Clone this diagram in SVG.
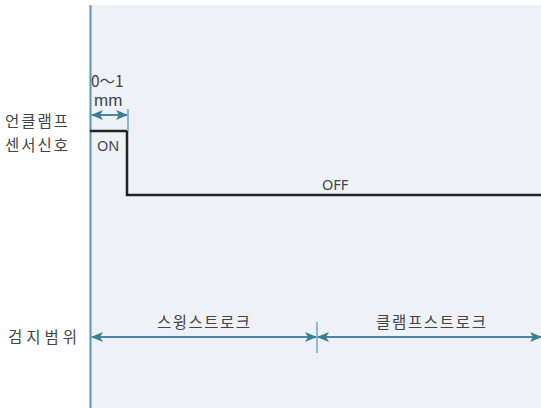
<svg xmlns="http://www.w3.org/2000/svg" width="541" height="408" viewBox="0 0 541 408">
<style>
text{font-family:"Noto Sans CJK KR","Noto Sans",sans-serif;fill:#444;font-size:15.5px}
.lat{font-family:"Noto Sans","Noto Sans CJK KR",sans-serif;font-size:14.5px}
.mm{font-family:"Liberation Sans","Noto Sans",sans-serif;font-size:17px}
.rng{font-size:15.5px}
.dim{stroke:#4a87a2;stroke-width:2;fill:none}
.tick{stroke:#8fb8cb;stroke-width:2}
</style>
<defs>
<marker id="ah" viewBox="0 0 12 10" refX="11" refY="5" markerWidth="12" markerHeight="10" markerUnits="userSpaceOnUse" orient="auto-start-reverse">
<path d="M0,0 L12,5 L0,10 L3,5 Z" fill="#3a7f99"/>
</marker>
</defs>
<rect x="90" y="5" width="451" height="403" fill="#eef2f7"/>
<g id="axis"><line x1="90.5" y1="5" x2="90.5" y2="408" stroke="#5f93ab" stroke-width="2"/></g>
<g id="labels">
<text x="5" y="127" textLength="63">언클램프</text>
<text x="5" y="151" textLength="63">센서신호</text>
<text x="8" y="343" textLength="69" lengthAdjust="spacing">검지범위</text>
</g>
<g id="signal">
<polyline points="90,131 127,131 127,195 541,195" fill="none" stroke="#222" stroke-width="2.5"/>
<text class="lat" x="97" y="151">ON</text>
<text class="lat" x="322" y="190">OFF</text>
</g>
<g id="connectors">
<line class="tick" x1="128" y1="109" x2="128" y2="131"/>
<line class="dim" x1="92" y1="115" x2="127" y2="115" marker-start="url(#ah)" marker-end="url(#ah)"/>
<line class="tick" x1="317" y1="322" x2="317" y2="353"/>
<line class="dim" x1="92" y1="337" x2="316" y2="337" marker-start="url(#ah)" marker-end="url(#ah)"/>
<line class="dim" x1="318" y1="337" x2="541" y2="337" marker-start="url(#ah)" marker-end="url(#ah)"/>
</g>
<g id="dimlabels">
<text class="rng" x="91" y="87">0〜1</text>
<text class="mm" x="94" y="106">mm</text>
<text x="157" y="328" textLength="93">스윙스트로크</text>
<text x="376" y="328" textLength="110">클램프스트로크</text>
</g>
</svg>
